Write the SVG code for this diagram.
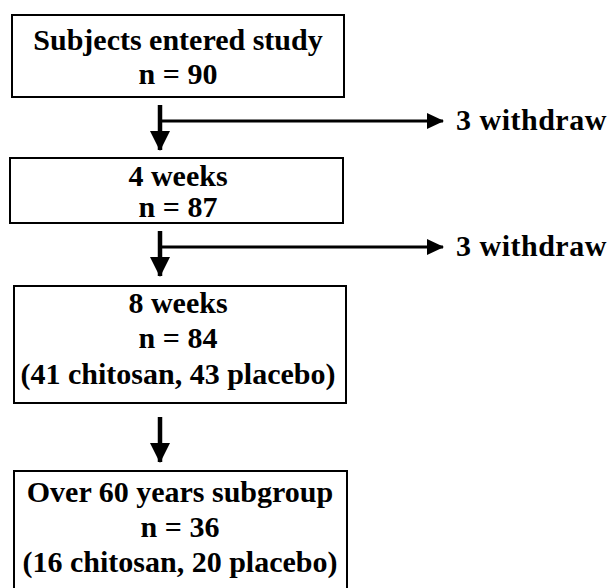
<svg xmlns="http://www.w3.org/2000/svg" width="614" height="588" viewBox="0 0 614 588">
<defs>
<style>
.box{fill:#fff;stroke:#000;stroke-width:2}
.t{font-family:"Liberation Serif","Times New Roman",serif;font-weight:bold;font-size:30px;fill:#000;text-anchor:middle}
.tl{font-family:"Liberation Serif","Times New Roman",serif;font-weight:bold;font-size:30px;fill:#000;letter-spacing:0.5px}
.v{stroke:#000;stroke-width:4.5;fill:none}
.h{stroke:#000;stroke-width:3;fill:none}
</style>
<marker id="ah" markerWidth="20" markerHeight="20" refX="19" refY="10" orient="auto" markerUnits="userSpaceOnUse" viewBox="0 0 20 20">
<path d="M0,0 L20,10 L0,20 Z" fill="#000"/>
</marker>
<marker id="ahs" markerWidth="17" markerHeight="16" refX="16" refY="8" orient="auto" markerUnits="userSpaceOnUse" viewBox="0 0 17 16">
<path d="M0,0 L17,8 L0,16 Z" fill="#000"/>
</marker>
</defs>
<rect width="614" height="588" fill="#fff"/>
<g id="connectors">
<line class="v" x1="160" y1="105" x2="160" y2="150" marker-end="url(#ah)"/>
<line class="h" x1="160" y1="121" x2="443" y2="121" marker-end="url(#ahs)"/>
<line class="v" x1="160" y1="231" x2="160" y2="276" marker-end="url(#ah)"/>
<line class="h" x1="160" y1="247" x2="443" y2="247" marker-end="url(#ahs)"/>
<line class="v" x1="160" y1="417" x2="160" y2="462" marker-end="url(#ah)"/>
</g>
<g id="n1">
<rect class="box" x="12" y="15" width="332" height="82"/>
<text class="t" x="178" y="50">Subjects entered study</text>
<text class="t" x="178" y="84">n = 90</text>
</g>
<g id="n2">
<rect class="box" x="10" y="158" width="333" height="65"/>
<text class="t" x="178" y="186">4 weeks</text>
<text class="t" x="178" y="217">n = 87</text>
</g>
<g id="n3">
<rect class="box" x="14" y="286" width="332" height="117"/>
<text class="t" x="178" y="313">8 weeks</text>
<text class="t" x="178" y="348">n = 84</text>
<text class="t" x="178" y="384">(41 chitosan, 43 placebo)</text>
</g>
<g id="n4">
<rect class="box" x="14" y="471" width="333" height="130"/>
<text class="t" x="180" y="502">Over 60 years subgroup</text>
<text class="t" x="180" y="537">n = 36</text>
<text class="t" x="180" y="572">(16 chitosan, 20 placebo)</text>
</g>
<g id="w1">
<text class="tl" x="456" y="130">3 withdraw</text>
</g>
<g id="w2">
<text class="tl" x="456" y="256">3 withdraw</text>
</g>
</svg>
